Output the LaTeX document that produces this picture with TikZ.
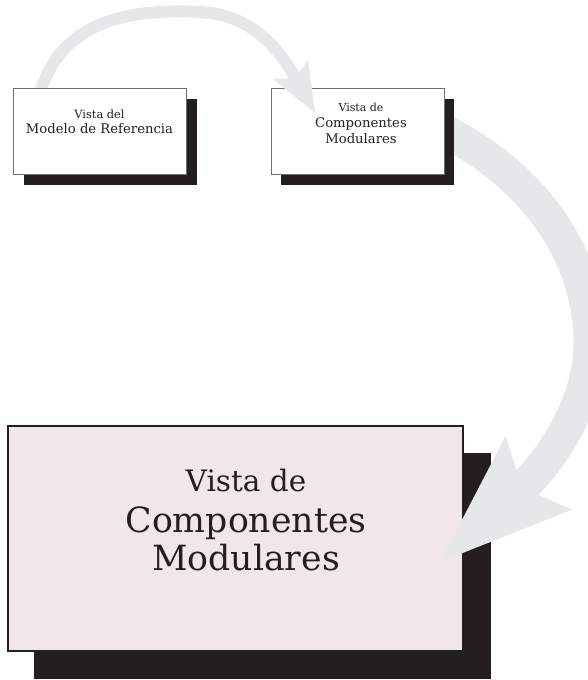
\documentclass[tikz,border=0pt]{standalone}
\usepackage{fontspec}
\setmainfont{DejaVu Serif}
\usetikzlibrary{arrows.meta}
\definecolor{ink}{HTML}{231F20}
\definecolor{arrowgrey}{HTML}{E6E7E8}
\definecolor{pinkfill}{HTML}{F1E6EA}
\definecolor{edgegrey}{HTML}{6D6E71}
\pgfdeclarelayer{back}
\pgfdeclarelayer{mid}
\pgfdeclarelayer{front}
\pgfsetlayers{back,mid,main,front}
\begin{document}
\begin{tikzpicture}[x=1pt,y=-1pt,
  smallshadow/.style={fill=ink,draw=none,inner sep=0pt,minimum width=173pt,minimum height=86pt},
  smallbox/.style={fill=white,draw=edgegrey,line width=0.8pt,inner sep=0pt,minimum width=173pt,minimum height=86pt,text=ink},
  bigshadow/.style={fill=ink,draw=none,inner sep=0pt,minimum width=457pt,minimum height=226pt},
  bigbox/.style={fill=pinkfill,draw=ink,line width=1.6pt,inner sep=0pt,minimum width=455pt,minimum height=225pt,text=ink},
  thinflow/.style={draw=arrowgrey,line width=12pt,-{Stealth[length=50pt,width=40pt,inset=10pt,line width=0pt]}},
  thickflow/.style={draw=arrowgrey,line width=33pt,-{Stealth[length=133pt,width=99pt,inset=22pt,line width=0pt]}}
]
\useasboundingbox (0,0) rectangle (588,680);
% big box (back layer)
\begin{pgfonlayer}{back}
\node[bigshadow] (b3s) at (262.5,566) {};
\node[bigbox] (b3) at (235.5,538.5) {\begin{minipage}[c][225pt][t]{455pt}\centering\leftskip=21pt plus 1fil
\vspace*{43pt}\fontsize{29.5}{38}\selectfont Vista de\\[3pt]
\fontsize{34.7}{38}\selectfont Componentes\\
Modulares\par\end{minipage}};
\end{pgfonlayer}
% box 2 (main layer)
\node[smallshadow] (b2s) at (367.5,141.5) {};
\node[smallbox] (b2) at (357.5,131) {\begin{minipage}[c][86pt][t]{173pt}\centering\leftskip=7pt plus 1fil
\vspace*{15.6pt}\fontsize{11}{16}\selectfont Vista de\\
\fontsize{13.2}{16}\selectfont Componentes\\
Modulares\par\end{minipage}};
% box 1 (front layer)
\begin{pgfonlayer}{front}
\node[smallshadow] (b1s) at (110,141.5) {};
\node[smallbox] (b1) at (99.5,131) {\begin{minipage}[c][86pt][t]{173pt}\centering
\vspace*{21.6pt}\fontsize{11.4}{15}\selectfont Vista del\\
\fontsize{13.2}{15}\selectfont Modelo de Referencia\par\end{minipage}};
\end{pgfonlayer}
\coordinate (tip1) at (315,113);
\coordinate (tip2) at (440,562);
% arrow 1: box 1 -> box 2
\draw[thinflow] ([xshift=26pt,yshift=-10pt]b1.north west) .. controls (58,25) and (120,8) .. (200,12) .. controls (248,14) and (277,45) .. (tip1);
% arrow 2: box 2 -> big box
\begin{pgfonlayer}{mid}
\draw[thickflow] (b2.east) .. controls (525,172) and (588,245) .. (590,340) .. controls (591,425) and (522,488) .. (tip2);
\end{pgfonlayer}
\end{tikzpicture}
\end{document}
